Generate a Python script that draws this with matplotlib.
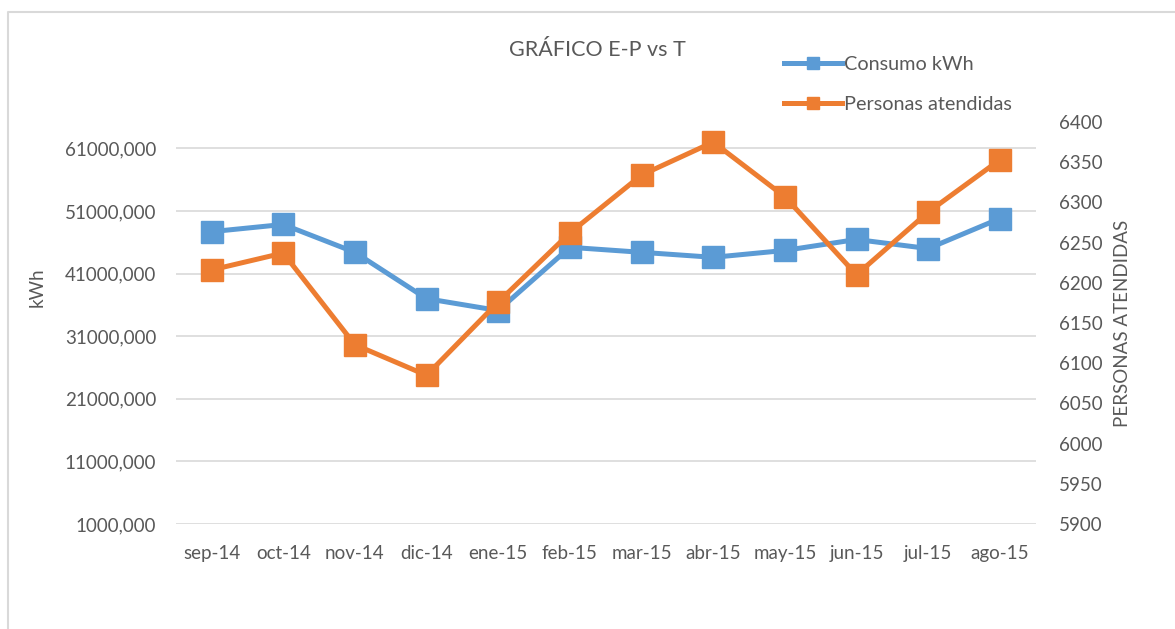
import matplotlib.pyplot as plt
from matplotlib.lines import Line2D
import numpy as np

plt.rcParams['font.family'] = ['Lato', 'DejaVu Sans']

meses = ['sep-14', 'oct-14', 'nov-14', 'dic-14', 'ene-15', 'feb-15',
         'mar-15', 'abr-15', 'may-15', 'jun-15', 'jul-15', 'ago-15']
consumo = [47700, 48850, 44400, 37000, 35100, 45200,
           44400, 43600, 44700, 46450, 45000, 49800]
personas = [6216, 6237, 6123, 6085, 6176, 6262,
            6334, 6375, 6307, 6210, 6288, 6353]
ticks_kwh = [1000, 11000, 21000, 31000, 41000, 51000, 61000]
ticks_pers = [5900, 5950, 6000, 6050, 6100, 6150, 6200, 6250, 6300, 6350, 6400]

azul = '#5B9BD5'
naranja = '#ED7D31'
gris = '#595959'

fig = plt.figure(figsize=(11.75, 6.29), dpi=100)
ax = fig.add_axes([175.7 / 1175, 1 - 524 / 629, 860 / 1175, 402 / 629])
ax2 = ax.twinx()

x = np.arange(len(meses))
ax.plot(x, consumo, color=azul, lw=3.6, marker='s', ms=16, mec=azul, zorder=3)
ax2.plot(x, personas, color=naranja, lw=3.6, marker='s', ms=16, mec=naranja, zorder=3)

ax.set_xlim(-0.5, len(meses) - 0.5)
ax.set_ylim(1000, 1000 + 402 / 62.6 * 10000)
ax2.set_ylim(5900, 6400)

ax.set_yticks(ticks_kwh)
ax.set_yticklabels([f'{t},000' for t in ticks_kwh])
ax2.set_yticks(ticks_pers)
ax2.set_yticklabels([str(t) for t in ticks_pers])
ax.set_xticks(x)
ax.set_xticklabels(meses)

ax.grid(axis='y', color='#D9D9D9', lw=1.2)
ax.set_axisbelow(True)
for a in (ax, ax2):
    for s in a.spines.values():
        s.set_visible(False)
    a.tick_params(length=0, labelsize=13.5, labelcolor=gris)
ax.tick_params(axis='y', pad=14)
ax.tick_params(axis='x', pad=15)
ax2.tick_params(axis='y', pad=17)

fig.text(37 / 1175, 1 - 287 / 629, 'kWh', rotation=90, ha='center', va='center',
         fontsize=13.5, color=gris)
fig.text(1122 / 1175, 1 - 323 / 629, 'PERSONAS ATENDIDAS', rotation=90,
         ha='center', va='center', fontsize=13.5, color=gris)
fig.text(597 / 1175, 1 - 50 / 629, 'GRÁFICO E-P vs T', ha='center', va='center',
         fontsize=15.5, color=gris)

handles = [Line2D([], [], color=azul, lw=3.6, marker='s', ms=8),
           Line2D([], [], color=naranja, lw=3.6, marker='s', ms=8)]
fig.legend(handles, ['Consumo kWh', 'Personas atendidas'], loc='upper left',
           bbox_to_anchor=(776 / 1175, 1 - 48 / 629), frameon=False,
           fontsize=14.3, labelcolor=gris, handlelength=2.9, handletextpad=0.1,
           labelspacing=1.15, borderaxespad=0)

fig.add_artist(Line2D([8 / 1175, 8 / 1175, 1], [0, 1 - 12 / 629, 1 - 12 / 629],
                      transform=fig.transFigure, color='#D9D9D9', lw=1.5))

fig.savefig('out.png', dpi=100)
